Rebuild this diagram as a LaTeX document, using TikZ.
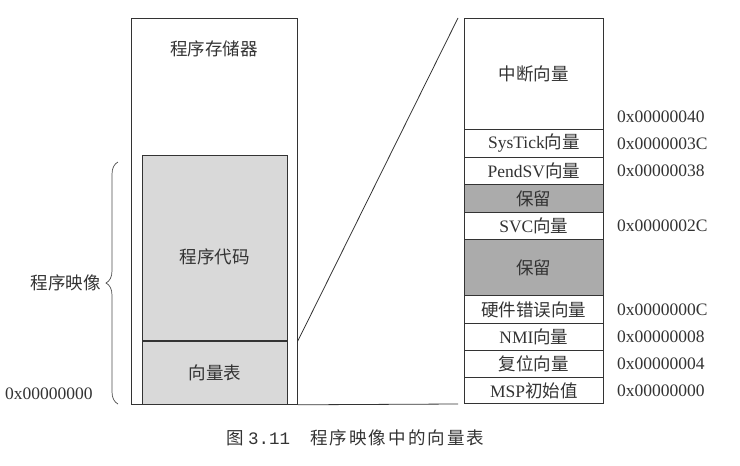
\documentclass[tikz,border=0pt]{standalone}
\usepackage{fontspec}
\setmainfont{Liberation Serif}
\newfontfamily\cjk{Noto Sans CJK SC}
\newfontfamily\cjkcap[LetterSpace=12]{Noto Sans CJK SC}
\newfontfamily\capmono{Liberation Mono}
\usetikzlibrary{calc}
\usetikzlibrary{decorations.pathreplacing}

\begin{document}
\begin{tikzpicture}[x=1pt,y=-1pt,
  every node/.style={font=\fontsize{17.5}{20}\selectfont, text=black!80},
  box/.style={draw=black!80, line width=0.8pt, inner sep=0pt, anchor=north west},
  cell/.style={box, minimum width=139pt},
  addr/.style={anchor=west, inner sep=0pt, xshift=13pt}]
% Canvas size
\useasboundingbox (0,0) rectangle (740,466);
% Zoom corners
\coordinate (zoomtop) at (458,18);
\coordinate (zoombot) at (458,404);
% Program memory
\node[box, minimum width=166pt, minimum height=386pt] (mem) at (131,18) {};
\node (memlabel) at (214,49) {\cjk 程序存储器};
% Program image: code and vector table
\node[box, fill=black!15, minimum width=145pt, minimum height=185pt] (code) at (142,155) {};
\node (codelabel) at (214.5,257) {\cjk 程序代码};
\node[box, fill=black!15, minimum width=145pt, minimum height=63pt] (vtab) at (142,341) {\cjk 向量表};
% Baseline and zoom line
\draw[line width=0.8pt, black!80] (mem.south east) -- (zoombot);
\draw[line width=0.8pt, black!80] (mem.east |- vtab.north) -- (zoomtop);
% Brace for program image
\coordinate (bracebot) at (118,404);
\coordinate (bracetop) at (118,162);
\draw[line width=0.7pt, black!70, decorate, decoration={brace, amplitude=12pt}] (bracebot) -- (bracetop);
\node[anchor=east, inner sep=0pt] (imglabel) at (101,283) {\cjk 程序映像};
\node[anchor=west, inner sep=0pt] (baseaddr) at (5,394) {0x00000000};
% Vector table cells
\node[cell, minimum height=111pt] (irq) at (464,18) {\cjk 中断向量};
\node[cell, minimum height=28pt] (systick) at (464,129) {SysTick\cjk 向量};
\node[cell, minimum height=27pt] (pendsv) at (464,157) {PendSV\cjk 向量};
\node[cell, fill=black!33, minimum height=28pt] (resA) at (464,184) {\cjk 保留};
\node[cell, minimum height=27pt] (svc) at (464,212) {SVC\cjk 向量};
\node[cell, fill=black!33, minimum height=56pt] (resB) at (464,239) {\cjk 保留};
\node[cell, minimum height=28pt] (hard) at (464,295) {\cjk 硬件错误向量};
\node[cell, minimum height=27pt] (nmi) at (464,323) {NMI\cjk 向量};
\node[cell, minimum height=27pt] (reset) at (464,350) {\cjk 复位向量};
\node[cell, minimum height=26pt] (msp) at (464,377) {MSP\cjk 初始值};
% Addresses
\node[addr] at ($(systick.north east)+(0,-12)$) {0x00000040};
\node[addr] at (systick.east) {0x0000003C};
\node[addr] at (pendsv.east) {0x00000038};
\node[addr] at (svc.east) {0x0000002C};
\node[addr] at (hard.east) {0x0000000C};
\node[addr] at (nmi.east) {0x00000008};
\node[addr] at (reset.east) {0x00000004};
\node[addr] at (msp.east) {0x00000000};
% Caption
\node[anchor=west, inner sep=0pt] (capnum) at (226,438) {{\cjkcap 图} {\capmono 3.11}};
\node[anchor=west, inner sep=0pt] (captext) at (310,438) {\cjkcap 程序映像中的向量表};
\end{tikzpicture}
\end{document}
